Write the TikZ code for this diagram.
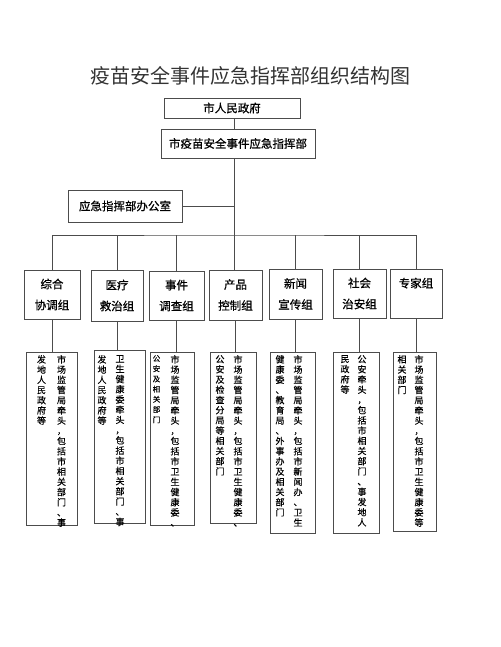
\documentclass[tikz,border=0pt]{standalone}
\usepackage{fontspec}
\setmainfont{Noto Sans CJK SC}
\newfontfamily\cuzi[FakeBold=0.8]{Noto Sans CJK SC}
\newfontfamily\xizi[FakeBold=0.3]{Noto Sans CJK SC}
\makeatletter
% stack the characters of #1 one under another
\def\shu#1{\shu@a#1\relax}
\def\shu@a#1{#1\shu@b}
\def\shu@b#1{\ifx#1\relax\else\\#1\expandafter\shu@b\fi}
\makeatother

\begin{document}
\begin{tikzpicture}[x=1pt,y=-1pt,
  kuang/.style={draw=black!70,line width=.7pt,inner sep=0pt,align=center},
  zu/.style={kuang,font=\cuzi\fontsize{11.5}{21}\selectfont},
  xian/.style={draw=black!70,line width=.7pt},
  lie/.style={anchor=north,inner sep=0pt,align=center,font=\xizi\fontsize{9}{10.2}\selectfont}]

\useasboundingbox (0,0) rectangle (500,647);
\fill[white] (0,0) rectangle (500,647);

\node[text=black!80,font=\fontsize{20}{24}\selectfont] (title) at (250,75.5) {疫苗安全事件应急指挥部组织结构图};

\node[kuang,font=\cuzi\fontsize{11.5}{14}\selectfont,minimum width=136,minimum height=20] (gov) at (232,108) {市人民政府};
\node[kuang,font=\cuzi\fontsize{11.5}{14}\selectfont,minimum width=154,minimum height=29] (hq) at (238,143.5) {市疫苗安全事件应急指挥部};
\node[kuang,font=\cuzi\fontsize{11.5}{14}\selectfont,minimum width=114,minimum height=32] (office) at (125,206) {应急指挥部办公室};
\coordinate (zhu) at (234,235);

% groups
\node[zu,minimum width=56,minimum height=49] (g1) at (52,294.5) {综合\\协调组};
\node[zu,minimum width=52,minimum height=51] (g2) at (117,295.5) {医疗\\救治组};
\node[zu,minimum width=55,minimum height=49] (g3) at (176.5,295.5) {事件\\调查组};
\node[zu,minimum width=53,minimum height=50] (g4) at (235.5,295) {产品\\控制组};
\node[zu,minimum width=53,minimum height=50] (g5) at (295.5,294) {新闻\\宣传组};
\node[zu,minimum width=53,minimum height=49] (g6) at (359.5,293.5) {社会\\治安组};
\node[zu,minimum width=52,minimum height=49] (g7) at (416,293.5) {专家组\\\phantom{组}};

% duties
\node[kuang,minimum width=51,minimum height=173] (d1) at (51.5,438.5) {};
\node[kuang,minimum width=51,minimum height=173] (d2) at (119.5,436.5) {};
\node[kuang,minimum width=44,minimum height=173] (d3) at (172,438.5) {};
\node[kuang,minimum width=46,minimum height=171] (d4) at (233,437.5) {};
\node[kuang,minimum width=45,minimum height=181] (d5) at (292.5,442.5) {};
\node[kuang,minimum width=46,minimum height=181] (d6) at (356,442.5) {};
\node[kuang,minimum width=43,minimum height=179] (d7) at (414.5,441.5) {};

\node[lie] (d1r) at (61.5,355) {\shu{市场监管局牵头，包括市相关部门、事}};
\node[lie] (d1l) at (41.5,355) {\shu{发地人民政府等}};
\node[lie] (d2r) at (120,355) {\shu{卫生健康委牵头，包括市相关部门、事}};
\node[lie] (d2l) at (102,355) {\shu{发地人民政府等}};
\node[lie] (d3r) at (175,355) {\shu{市场监管局牵头，包括市卫生健康委、}};
\node[lie,font=\xizi\fontsize{7.5}{10.2}\selectfont] (d3l) at (156.5,355) {\shu{公安及相关部门}};
\node[lie] (d4r) at (238,355) {\shu{市场监管局牵头，包括市卫生健康委、}};
\node[lie] (d4l) at (220,355) {\shu{公安及检查分局等相关部门}};
\node[lie] (d5r) at (298,355) {\shu{市场监管局牵头，包括市新闻办、卫生}};
\node[lie] (d5l) at (280,355) {\shu{健康委、教育局、外事办及相关部门}};
\node[lie] (d6r) at (362,355) {\shu{公安牵头，包括市相关部门、事发地人}};
\node[lie] (d6l) at (345,355) {\shu{民政府等}};
\node[lie] (d7r) at (419,355) {\shu{市场监管局牵头，包括市卫生健康委等}};
\node[lie] (d7l) at (402,355) {\shu{相关部门}};

% connectors
\draw[xian] (gov.south -| zhu) -- (hq.north -| zhu);
\draw[xian] (hq.south -| zhu) -- (zhu |- g4.north);
\draw[xian] (office.east) -- (office.east -| zhu);
\draw[xian] (g1.north) |- (zhu) -| (g7.north);
\foreach \g in {g2,g3,g5,g6}
  \draw[xian] (\g.north) -- (\g.north |- zhu);
\foreach \i in {1,...,7}
  \draw[xian] (g\i.south) -- (g\i.south |- d\i.north);

\end{tikzpicture}
\end{document}
